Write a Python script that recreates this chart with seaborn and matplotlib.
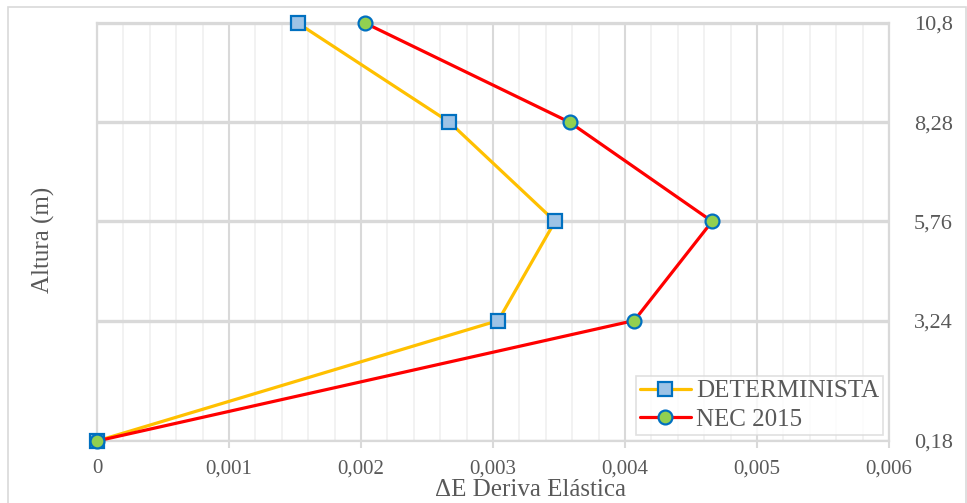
import matplotlib
matplotlib.use("Agg")
import matplotlib.pyplot as plt
import seaborn as sns
import pandas as pd
from matplotlib.ticker import FuncFormatter, MultipleLocator, FixedLocator
from matplotlib.patches import Rectangle

# Datos
altura = [0.18, 3.24, 5.76, 8.28, 10.8]
deriva_determinista = [0.0, 0.00304, 0.00347, 0.00267, 0.00152]
deriva_nec = [0.0, 0.00407, 0.00466, 0.00358, 0.00203]
series = ["DETERMINISTA", "NEC 2015"]
ytick_labels = ["0,18", "3,24", "5,76", "8,28", "10,8"]

df = pd.concat([
    pd.DataFrame({"Altura": altura, "Deriva": deriva_determinista, "Serie": series[0]}),
    pd.DataFrame({"Altura": altura, "Deriva": deriva_nec, "Serie": series[1]}),
], ignore_index=True)

sns.set_style("white")
plt.rcParams["font.family"] = ["Liberation Serif", "DejaVu Serif"]

fig = plt.figure(figsize=(9.67, 5.03), dpi=100)
ax = fig.add_axes([97 / 967, 1 - 441 / 503, (889 - 97) / 967, (441 - 23) / 503])

# borde del área del gráfico
fig.patches.append(Rectangle((8 / 967, -0.05), (965.5 - 8) / 967, 1 - 7 / 503 + 0.05,
                             transform=fig.transFigure, fill=False,
                             edgecolor="#d9d9d9", linewidth=1.2, zorder=0))

colores = {"DETERMINISTA": "#FFC000", "NEC 2015": "#FF0000"}
marcadores = {"DETERMINISTA": "s", "NEC 2015": "o"}
relleno = {"DETERMINISTA": "#9DC3E6", "NEC 2015": "#92D050"}

for s in series:
    d = df[df["Serie"] == s]
    sns.lineplot(data=d, x="Deriva", y="Altura", sort=False, ax=ax,
                 color=colores[s], linewidth=2.3, marker=marcadores[s],
                 markersize=9.5 if s == series[0] else 10,
                 markerfacecolor=relleno[s], markeredgecolor="#0070C0",
                 markeredgewidth=1.6, label=s, zorder=3, clip_on=False)

ax.set_xlim(0, 0.006)
ax.set_ylim(0.18, 10.8)

ax.xaxis.set_major_locator(MultipleLocator(0.001))
ax.xaxis.set_minor_locator(MultipleLocator(0.0002))
ax.xaxis.set_major_formatter(FuncFormatter(
    lambda v, p: "0" if abs(v) < 1e-12 else f"{v:.3f}".replace(".", ",")))
ax.yaxis.set_major_locator(FixedLocator(altura))
ax.set_yticklabels(ytick_labels)
ax.yaxis.tick_right()

ax.grid(which="major", axis="x", color="#d9d9d9", linewidth=1.5)
ax.grid(which="minor", axis="x", color="#f0f0f0", linewidth=1.2)
ax.grid(which="major", axis="y", color="#d9d9d9", linewidth=2.4)
ax.set_axisbelow(True)
for sp in ax.spines.values():
    sp.set_color("#d9d9d9")
    sp.set_linewidth(1.6)

ax.tick_params(axis="x", which="major", length=5, width=1.5, color="#d9d9d9",
               labelsize=15, labelcolor="#595959", pad=8, bottom=True)
ax.tick_params(axis="x", which="minor", length=0)
ax.tick_params(axis="y", length=0, labelsize=16, labelcolor="#595959", pad=18,
               right=True, left=False)

ax.set_xlabel("ΔE Deriva Elástica", fontsize=18, color="#595959")
ax.xaxis.set_label_coords(0.547, -0.092)
ax.set_ylabel("Altura (m)", fontsize=18, color="#595959")
ax.yaxis.set_label_position("left")
ax.yaxis.set_label_coords(-0.053, 0.481)

leg = ax.legend(loc="lower right", fontsize=18, frameon=True, fancybox=False,
                edgecolor="#d9d9d9", handlelength=2.05, borderpad=0.15,
                labelspacing=0.25, handletextpad=0.2, borderaxespad=0.25,
                labelcolor="#595959")
leg.get_frame().set_linewidth(1.2)

fig.savefig("out.png", dpi=100)
